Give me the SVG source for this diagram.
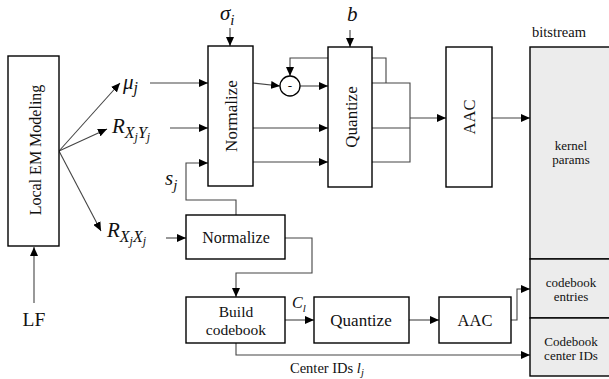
<svg xmlns="http://www.w3.org/2000/svg" width="609" height="379" viewBox="0 0 609 379">
<style>
.box{fill:#fff;stroke:#000;stroke-width:1.4}
.bs{fill:#ececec;stroke:#000;stroke-width:1.4}
.c{fill:none;stroke:#444;stroke-width:1.1}
.t{font-family:'Liberation Serif','DejaVu Serif',serif;fill:#111}
.m{font-family:'Liberation Serif','DejaVu Serif',serif;font-style:italic;fill:#111}
</style>
<defs>
<marker id="ah" markerUnits="userSpaceOnUse" markerWidth="9" markerHeight="8" refX="9" refY="4" orient="auto">
<path d="M0,0 L9,4 L0,8 z" fill="#000"/>
</marker>
</defs>
<rect width="609" height="379" fill="#fff"/>

<g id="connectors">
<line class="c" x1="34" y1="303" x2="34" y2="247" marker-end="url(#ah)"/>
<line class="c" x1="59" y1="151" x2="120" y2="83" marker-end="url(#ah)"/>
<line class="c" x1="59" y1="151" x2="107" y2="129" marker-end="url(#ah)"/>
<line class="c" x1="59" y1="151" x2="101" y2="231" marker-end="url(#ah)"/>
<line class="c" x1="150" y1="83" x2="208" y2="83" marker-end="url(#ah)"/>
<line class="c" x1="170" y1="128" x2="208" y2="128" marker-end="url(#ah)"/>
<path class="c" d="M236,215 V200 H186 V163 H208" marker-end="url(#ah)"/>
<line class="c" x1="166" y1="238" x2="186" y2="238" marker-end="url(#ah)"/>
<line class="c" x1="230" y1="28" x2="230" y2="46" marker-end="url(#ah)"/>
<line class="c" x1="350" y1="30" x2="350" y2="47" marker-end="url(#ah)"/>
<line class="c" x1="253" y1="83" x2="280" y2="86" marker-end="url(#ah)"/>
<line class="c" x1="300" y1="86" x2="328" y2="86" marker-end="url(#ah)"/>
<path class="c" d="M386,83 V58 H290 V76" marker-end="url(#ah)"/>
<line class="c" x1="253" y1="128" x2="328" y2="128" marker-end="url(#ah)"/>
<line class="c" x1="253" y1="162" x2="328" y2="162" marker-end="url(#ah)"/>
<path class="c" d="M372,83 H410 V162 H372 M372,128 H410"/>
<line class="c" x1="410" y1="118" x2="446" y2="118" marker-end="url(#ah)"/>
<line class="c" x1="492" y1="118" x2="530" y2="118" marker-end="url(#ah)"/>
<path class="c" d="M285,238 H312 V273 H236 V297" marker-end="url(#ah)"/>
<line class="c" x1="285" y1="320" x2="314" y2="320" marker-end="url(#ah)"/>
<line class="c" x1="409" y1="320" x2="439" y2="320" marker-end="url(#ah)"/>
<path class="c" d="M511,320 H517 V289 H530" marker-end="url(#ah)"/>
<path class="c" d="M236,343 V355 H530" marker-end="url(#ah)"/>
</g>

<g id="em">
<rect class="box" x="8" y="56" width="51" height="190"/>
<text class="t" font-size="16" text-anchor="middle" transform="translate(35,150) rotate(-90)" y="5.5">Local EM Modeling</text>
</g>
<g id="lf"><text class="t" font-size="19.5" x="34" y="326" text-anchor="middle">LF</text></g>

<g id="labels">
<text class="m" font-size="21" x="123" y="89">μ<tspan font-size="16" dy="4">j</tspan></text>
<text class="m" font-size="21" x="112" y="133">R<tspan font-size="16" dy="5">X</tspan><tspan font-size="12" dy="3">j</tspan><tspan font-size="16" dy="-3">Y</tspan><tspan font-size="12" dy="3">j</tspan></text>
<text class="m" font-size="21" x="107" y="237">R<tspan font-size="16" dy="5">X</tspan><tspan font-size="12" dy="3">j</tspan><tspan font-size="16" dy="-3">X</tspan><tspan font-size="12" dy="3">j</tspan></text>
<text class="m" font-size="21" x="165" y="185">s<tspan font-size="15" dy="5">j</tspan></text>
<text class="m" font-size="21" x="220" y="20">σ<tspan font-size="15" dy="5">i</tspan></text>
<text class="m" font-size="21" x="347" y="21">b</text>
<text class="m" font-size="16" x="292" y="308">C<tspan font-size="11" dy="4">l</tspan></text>
<text class="t" font-size="14.5" x="290" y="373">Center IDs <tspan class="m" font-style="italic">l<tspan font-size="10.5" dy="3">j</tspan></tspan></text>
</g>

<g id="normalize1">
<rect class="box" x="208" y="46" width="45" height="140"/>
<text class="t" font-size="17" text-anchor="middle" transform="translate(231,116) rotate(-90)" y="5.5">Normalize</text>
</g>
<g id="minus">
<circle cx="290" cy="86" r="10" fill="#fff" stroke="#000" stroke-width="1.3"/>
<text class="t" font-size="13" x="290" y="90" text-anchor="middle">-</text>
</g>
<g id="quantize1">
<rect class="box" x="328" y="47" width="44" height="140"/>
<text class="t" font-size="17" text-anchor="middle" transform="translate(351,117) rotate(-90)" y="5.5">Quantize</text>
</g>
<g id="aac1">
<rect class="box" x="446" y="47" width="46" height="140"/>
<text class="t" font-size="16.5" text-anchor="middle" transform="translate(469,117) rotate(-90)" y="5.5">AAC</text>
</g>

<g id="normalize2">
<rect class="box" x="186" y="215" width="99" height="44"/>
<text class="t" font-size="16" x="236" y="243" text-anchor="middle">Normalize</text>
</g>
<g id="build">
<rect class="box" x="186" y="297" width="99" height="46"/>
<text class="t" font-size="15.5" x="236" y="317" text-anchor="middle">Build</text>
<text class="t" font-size="15.5" x="236" y="335" text-anchor="middle">codebook</text>
</g>
<g id="quantize2">
<rect class="box" x="314" y="297" width="95" height="46"/>
<text class="t" font-size="17" x="361" y="325.5" text-anchor="middle">Quantize</text>
</g>
<g id="aac2">
<rect class="box" x="439" y="297" width="72" height="46"/>
<text class="t" font-size="16.5" x="475" y="326" text-anchor="middle">AAC</text>
</g>

<g id="bitstream">
<text class="t" font-size="14.5" x="532" y="37">bitstream</text>
<rect class="bs" x="530" y="47" width="80" height="212"/>
<rect class="bs" x="530" y="259" width="80" height="59"/>
<rect class="bs" x="530" y="318" width="80" height="58"/>
<text class="t" font-size="13" x="571" y="150" text-anchor="middle">kernel</text>
<text class="t" font-size="13" x="571" y="164" text-anchor="middle">params</text>
<text class="t" font-size="13" x="571" y="287" text-anchor="middle">codebook</text>
<text class="t" font-size="13" x="571" y="301" text-anchor="middle">entries</text>
<text class="t" font-size="13" x="571" y="346" text-anchor="middle">Codebook</text>
<text class="t" font-size="13" x="571" y="360" text-anchor="middle">center IDs</text>
</g>
</svg>
